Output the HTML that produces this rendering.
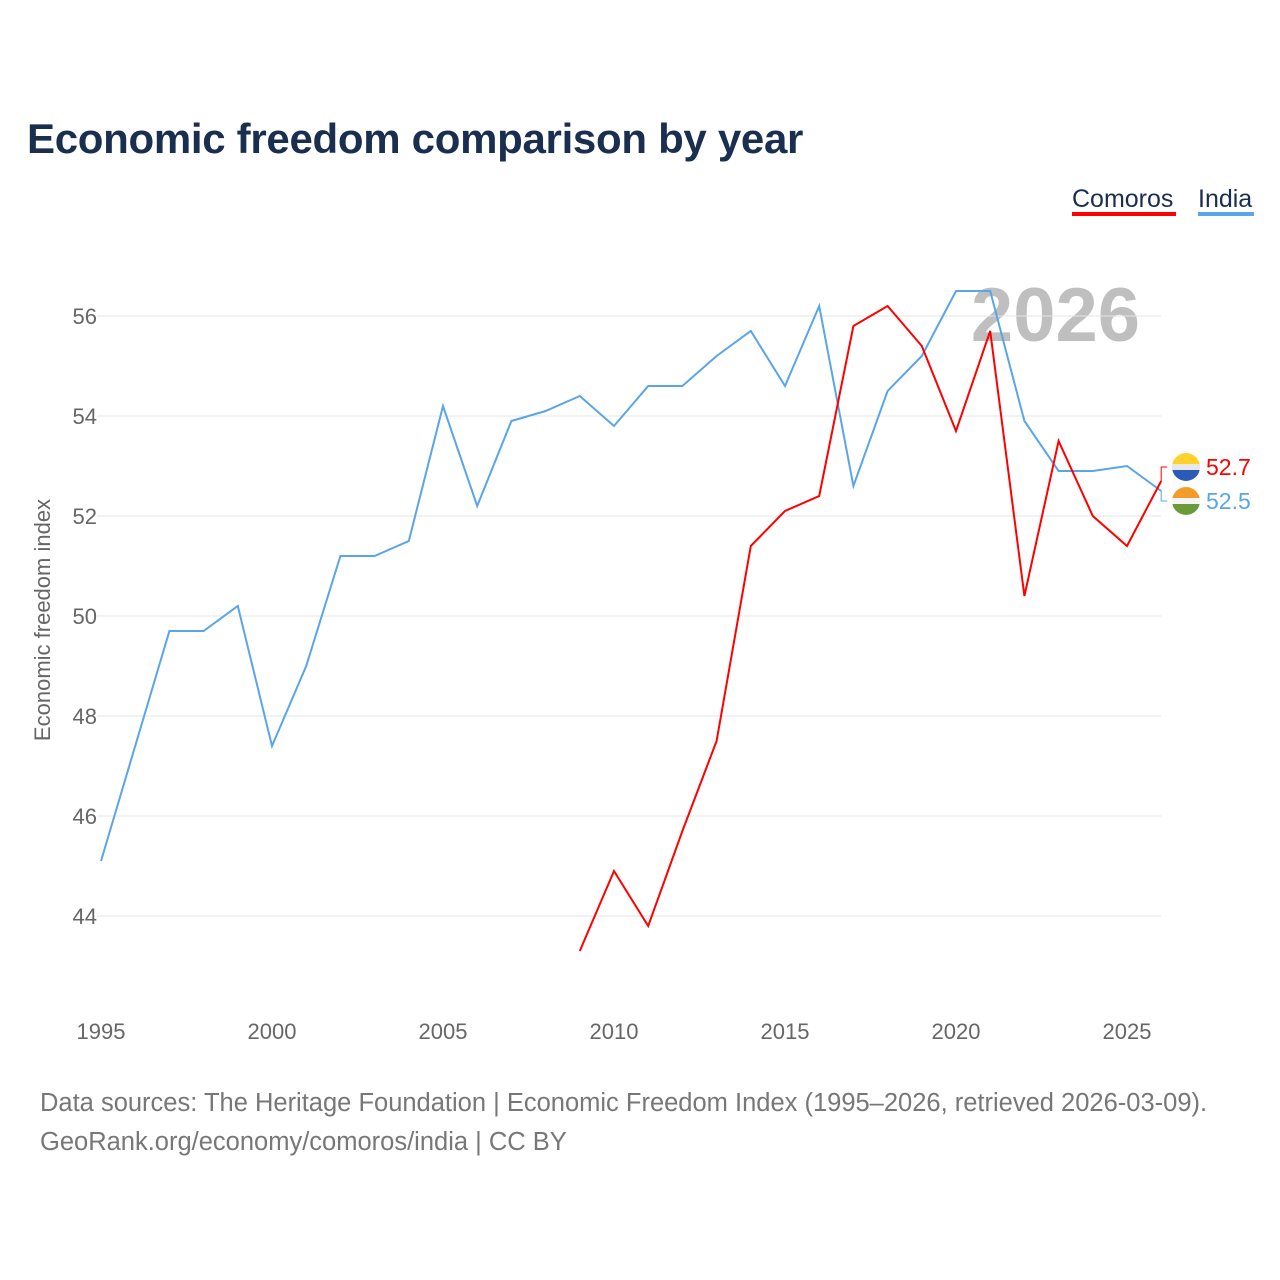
<!DOCTYPE html>
<html><head><meta charset="utf-8"><style>
body{margin:0;background:#fff;font-family:"Liberation Sans",sans-serif;}
#wrap{position:relative;width:1280px;height:1280px;overflow:hidden;}
</style></head><body>
<div id="wrap">
<svg id="chart" width="1280" height="1280">
<text x="27" y="153" font-size="42" font-weight="bold" fill="#1a2e4f" letter-spacing="-0.3">Economic freedom comparison by year</text>
<g>
<text x="1072" y="207" font-size="25" fill="#1a2e4f">Comoros</text>
<rect x="1072" y="212" width="104" height="4" fill="#ff0000"/>
<text x="1198" y="207" font-size="25" fill="#1a2e4f">India</text>
<rect x="1198" y="212" width="56" height="4" fill="#5aa5e8"/>
</g>
<text x="1140" y="341" font-size="76" font-weight="bold" fill="#bfbfbf" text-anchor="end">2026</text>
<g id="grid"></g><g id="xt"></g>
<text transform="translate(50,620) rotate(-90)" font-size="22" fill="#666" text-anchor="middle">Economic freedom index</text>
<g id="lines"></g>
<text x="40" y="1111" font-size="25.5" fill="#777">Data sources: The Heritage Foundation | Economic Freedom Index (1995–2026, retrieved 2026-03-09).</text>
<text x="40" y="1150" font-size="25.5" fill="#777">GeoRank.org/economy/comoros/india | CC BY</text>
</svg>
</div>
<script>
const indiaYears=[1995,1996,1997,1998,1999,2000,2001,2002,2003,2004,2005,2006,2007,2008,2009,2010,2011,2012,2013,2014,2015,2016,2017,2018,2019,2020,2021,2022,2023,2024,2025,2026];
const indiaValues=[45.1,47.4,49.7,49.7,50.2,47.4,49.0,51.2,51.2,51.5,54.2,52.2,53.9,54.1,54.4,53.8,54.6,54.6,55.2,55.7,54.6,56.2,52.6,54.5,55.2,56.5,56.5,53.9,52.9,52.9,53.0,52.5];
const comorosYears=[2009,2010,2011,2012,2013,2014,2015,2016,2017,2018,2019,2020,2021,2022,2023,2024,2025,2026];
const comorosValues=[43.3,44.9,43.8,45.7,47.5,51.4,52.1,52.4,55.8,56.2,55.4,53.7,55.7,50.4,53.5,52.0,51.4,52.7];
const yTicks=[44,46,48,50,52,54,56];
const xTicks=[1995,2000,2005,2010,2015,2020,2025];
const X=y=>101+(y-1995)*34.2;
const Y=v=>316+(56-v)*50;
const NS="http://www.w3.org/2000/svg";
function mk(t,a,p){const e=document.createElementNS(NS,t);for(const k in a)e.setAttribute(k,a[k]);p.appendChild(e);return e;}
const grid=document.getElementById('grid'),xt=document.getElementById('xt'),lines=document.getElementById('lines');
yTicks.forEach(v=>{
 const l=mk('line',{x1:97,x2:1161,y1:Y(v),y2:Y(v),stroke:'#e6e6e6','stroke-width':1},grid);
 
 
 const t=mk('text',{x:97,y:Y(v)+8,'font-size':22,fill:'#666','text-anchor':'end'},grid);
 t.textContent=v;
 
 
});
xTicks.forEach(y=>{
 const t=mk('text',{x:X(y),y:1039,'font-size':22,fill:'#666','text-anchor':'middle'},xt);
 t.textContent=y;
 
 
});
function series(yrs,vals,col,name){
 const p=mk('polyline',{points:yrs.map((y,i)=>X(y)+','+Y(vals[i])).join(' '),fill:'none',stroke:col,'stroke-width':2},lines);
 
 
}
series(indiaYears,indiaValues,'#5aa5e8','india');
series(comorosYears,comorosValues,'#ff0000','comoros');
function endLabel(yrs,vals,col,name,ly,c1,c2,c3){
 const lx=X(yrs[yrs.length-1]),v=vals[vals.length-1];
 mk('polyline',{points:`${lx},${Y(v)} ${lx},${ly} ${lx+6},${ly}`,fill:'none',stroke:col,'stroke-width':1},lines);
 const g=mk('g',{},lines);
 
 
 mk('path',{d:`M1172,${ly} A14,14 0 0 1 1200,${ly} Z`,fill:c1},g);
 mk('path',{d:`M1172,${ly} A14,14 0 0 0 1200,${ly} Z`,fill:c2},g);
 mk('rect',{x:1172,y:ly-3,width:28,height:6,fill:c3},g);
 const t=mk('text',{x:1206,y:ly+8,'font-size':23,fill:col},lines);
 t.textContent=v.toFixed(1);
 
 
}
endLabel(comorosYears,comorosValues,'#ff0000','comoros',467,'#ffd12a','#2a5bb8','#e8e8e8');
endLabel(indiaYears,indiaValues,'#5aa5e8','india',501,'#f39c2b','#6a9a3a','#f4f4f4');
</script>
</body></html>
